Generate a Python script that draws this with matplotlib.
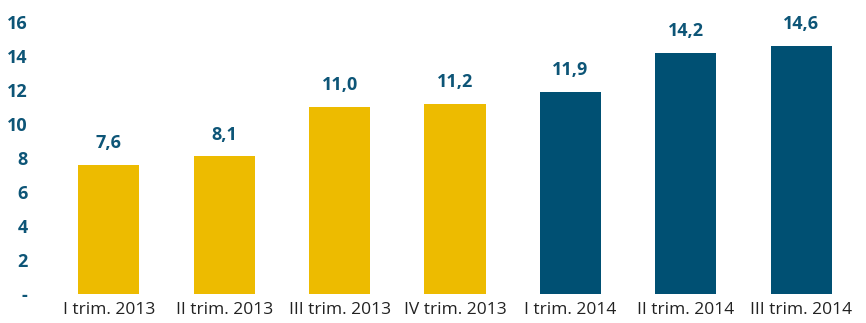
import matplotlib.pyplot as plt

# quarterly values
quarters = ["I trim. 2013", "II trim. 2013", "III trim. 2013", "IV trim. 2013",
            "I trim. 2014", "II trim. 2014", "III trim. 2014"]
values = [7.6, 8.1, 11.0, 11.2, 11.9, 14.2, 14.6]
years = [2013, 2013, 2013, 2013, 2014, 2014, 2014]

yticks = [0, 2, 4, 6, 8, 10, 12, 14, 16]
ytick_labels = ["-", "2", "4", "6", "8", "10", "12", "14", "16"]

yellow = "#EDBB00"
blue = "#005073"
label_blue = "#0D5577"

plt.rcParams["font.family"] = ["Open Sans", "DejaVu Sans"]

fig = plt.figure(figsize=(8.66, 3.23), dpi=100)
ax = fig.add_axes([51 / 866, 29 / 323, 808 / 866, 272 / 323])

colors = [yellow if y == 2013 else blue for y in years]
x = range(len(quarters))
bars = ax.bar(x, values, width=0.53, color=colors)

for b, v in zip(bars, values):
    ax.annotate(f"{v:.1f}".replace(".", ","),
                (b.get_x() + b.get_width() / 2, v),
                xytext=(0, 9), textcoords="offset points",
                ha="center", va="bottom", fontsize=13,
                fontweight="bold", color=label_blue)

ax.set_xlim(-0.5, len(quarters) - 0.5)
ax.set_ylim(0, 16)
ax.set_yticks(yticks)
ax.set_yticklabels(ytick_labels, fontsize=13, fontweight="bold", color=label_blue)
ax.set_xticks(list(x))
ax.set_xticklabels(quarters, fontsize=12.5, color="#222222")
ax.tick_params(axis="y", length=0, pad=17)
ax.tick_params(axis="x", length=0, pad=6)

for s in ax.spines.values():
    s.set_visible(False)

fig.savefig("out.png", dpi=100)
